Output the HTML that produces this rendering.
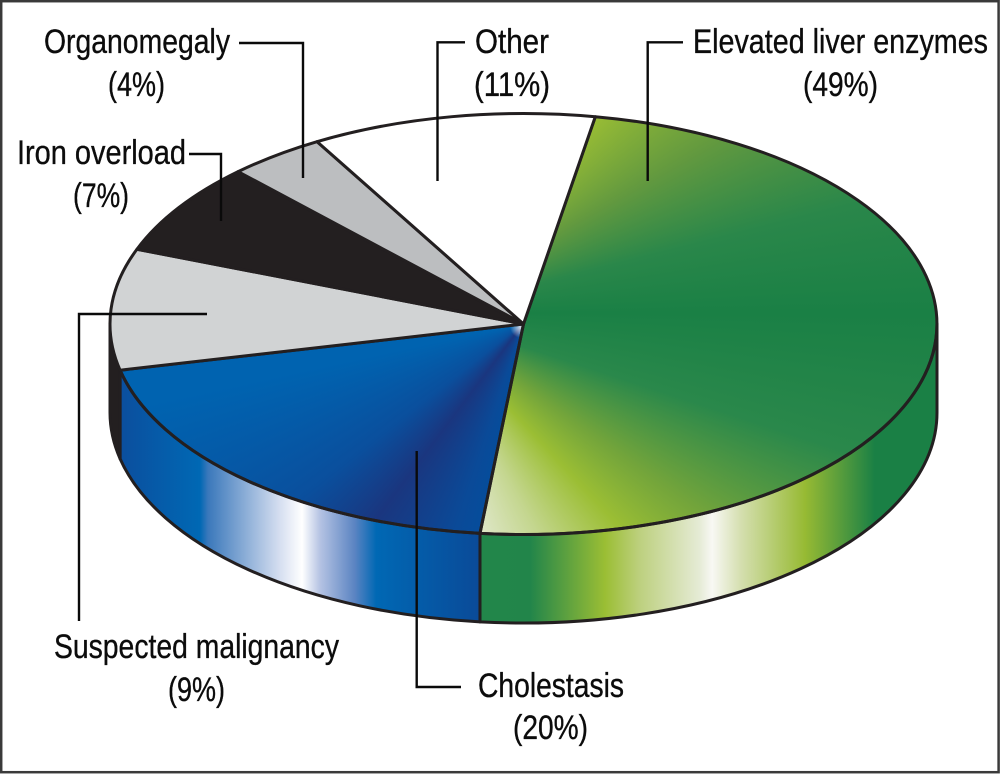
<!DOCTYPE html>
<html lang="en">
<head>
<meta charset="utf-8">
<title>Pie chart of indications</title>
<style>
html,body{margin:0;padding:0;background:#fff;}
#chart{position:relative;width:1000px;height:774px;overflow:hidden;background:#fff;}
.top-fill{position:absolute;left:0;top:0;width:1000px;height:774px;}
#top-green{background:conic-gradient(from 0deg at 420px 313px,#9bbe34 0deg,#9bbe34 41deg,#62993f 60deg,#2a874a 76deg,#1a8045 90deg,#2a884b 108deg,#72a43b 125deg,#9bbe34 137deg,#c4d68f 152deg,#e2e9cf 166deg,#e2e9cf 360deg);}
#top-blue{background:radial-gradient(circle 11px at 521px 327px,rgba(255,255,255,.85),rgba(255,255,255,0)),conic-gradient(from 0deg at 523px 324px,#004f9f 0deg,#004f9f 185deg,#0a4a98 198deg,#1a367f 217deg,#0a4f9d 232deg,#0063b0 258deg,#0063b0 360deg);}
svg{position:absolute;left:0;top:0;}
text{font-family:"Liberation Sans",Arial,sans-serif;font-size:34px;fill:#0c0c0c;stroke:#0c0c0c;stroke-width:0.35px;}
.leader{fill:none;stroke:#0a0a0a;stroke-width:2.4;}
</style>
</head>
<body>
<div id="chart">
  <div id="top-green" class="top-fill"></div>
  <div id="top-blue" class="top-fill"></div>
  <svg id="svg" width="1000" height="774" viewBox="0 0 1000 774">
    <defs>
      <linearGradient id="side-green" gradientUnits="userSpaceOnUse" x1="480" y1="0" x2="937" y2="0">
        <stop offset="0" stop-color="#22864a"/>
        <stop offset="0.11" stop-color="#22854a"/>
        <stop offset="0.274" stop-color="#9bbe34"/>
        <stop offset="0.35" stop-color="#bdd07f"/>
        <stop offset="0.48" stop-color="#e5ebd5"/>
        <stop offset="0.508" stop-color="#f8f8f4"/>
        <stop offset="0.57" stop-color="#d5dfb0"/>
        <stop offset="0.711" stop-color="#97ba33"/>
        <stop offset="0.864" stop-color="#1a8045"/>
        <stop offset="1" stop-color="#1a8045"/>
      </linearGradient>
      <linearGradient id="side-blue" gradientUnits="userSpaceOnUse" x1="122" y1="0" x2="480" y2="0">
        <stop offset="0" stop-color="#0b4f9e"/>
        <stop offset="0.218" stop-color="#0068b4"/>
        <stop offset="0.24" stop-color="#3a78bb"/>
        <stop offset="0.44" stop-color="#d5def0"/>
        <stop offset="0.503" stop-color="#ffffff"/>
        <stop offset="0.553" stop-color="#b5c3e3"/>
        <stop offset="0.65" stop-color="#5b84c2"/>
        <stop offset="0.71" stop-color="#0068b4"/>
        <stop offset="1" stop-color="#0a4a98"/>
      </linearGradient>
    </defs>
    <rect x="1.2" y="1.2" width="997.4" height="771" fill="none" stroke="#3a3a3a" stroke-width="2.5"/>
    <g id="slices"></g>

    <path class="leader" d="M239 43H303V178"/>
    <path class="leader" d="M465 42.3H437.5V181"/>
    <path class="leader" d="M683 42.3H647.7V181"/>
    <path class="leader" d="M189 154H221V221"/>
    <path class="leader" d="M207 314H79V621"/>
    <path class="leader" d="M416.7 451V687H461"/>

    <text x="693" y="53" textLength="295" lengthAdjust="spacingAndGlyphs">Elevated liver enzymes</text>
    <text x="803" y="96" textLength="75" lengthAdjust="spacingAndGlyphs" data-pct="0">(49%)</text>
    <text x="478" y="697" textLength="146" lengthAdjust="spacingAndGlyphs">Cholestasis</text>
    <text x="513" y="739" textLength="75" lengthAdjust="spacingAndGlyphs" data-pct="1">(20%)</text>
    <text x="54" y="658" textLength="285" lengthAdjust="spacingAndGlyphs">Suspected malignancy</text>
    <text x="168" y="701" textLength="57" lengthAdjust="spacingAndGlyphs" data-pct="2">(9%)</text>
    <text x="17" y="164" textLength="169" lengthAdjust="spacingAndGlyphs">Iron overload</text>
    <text x="73" y="207" textLength="56" lengthAdjust="spacingAndGlyphs" data-pct="3">(7%)</text>
    <text x="44" y="53" textLength="186" lengthAdjust="spacingAndGlyphs">Organomegaly</text>
    <text x="108" y="96" textLength="57" lengthAdjust="spacingAndGlyphs" data-pct="4">(4%)</text>
    <text x="475" y="53" textLength="74" lengthAdjust="spacingAndGlyphs">Other</text>
    <text x="474" y="96" textLength="76" lengthAdjust="spacingAndGlyphs" data-pct="5">(11%)</text>
  </svg>
</div>
<script>
const categories = ["elevated-liver-enzymes", "cholestasis", "suspected-malignancy", "iron-overload", "organomegaly", "other"];
const values = [48.9, 19.8, 9.3, 7.1, 3.8, 11.1];
const topFills = ["none", "none", "#d1d3d4", "#231f20", "#bcbec0", "#ffffff"];
const sideFills = ["url(#side-green)", "url(#side-blue)", "#231f20", "#231f20", "#bcbec0", "#ffffff"];

const CX = 523.5, CY = 324, RX = 413.5, RY = 210.5, DEPTH = 88.5, START = 10;
const NS = "http://www.w3.org/2000/svg";
const total = values.reduce(function (a, b) { return a + b; }, 0);

function angleFor(sum) { return START + sum / total * 360; }
function px(a, dy) {
  const r = a * Math.PI / 180;
  return [CX + RX * Math.sin(r), CY - RY * Math.cos(r) + (dy || 0)];
}
function fmt(p) { return p[0].toFixed(2) + " " + p[1].toFixed(2); }
function wedgePath(a0, a1) {
  const large = a1 - a0 > 180 ? 1 : 0;
  return "M" + CX + " " + CY + " L" + fmt(px(a0)) + " A" + RX + " " + RY + " 0 " + large + " 1 " + fmt(px(a1)) + " Z";
}
function sidePath(a0, a1) {
  const large = a1 - a0 > 180 ? 1 : 0;
  return "M" + fmt(px(a0)) + " A" + RX + " " + RY + " 0 " + large + " 1 " + fmt(px(a1)) +
    " L" + fmt(px(a1, DEPTH)) + " A" + RX + " " + RY + " 0 " + large + " 0 " + fmt(px(a0, DEPTH)) + " Z";
}

const group = document.getElementById("slices");
let running = 0;
const ranges = values.map(function (v) {
  const r = [angleFor(running), angleFor(running + v)];
  running += v;
  return r;
});

ranges.forEach(function (r, i) {
  const v0 = Math.max(r[0], 90), v1 = Math.min(r[1], 270);
  if (v1 > v0) {
    const side = document.createElementNS(NS, "path");
    
    
    side.setAttribute("d", sidePath(v0, v1));
    side.setAttribute("fill", sideFills[i]);
    side.setAttribute("stroke", "#231f20");
    side.setAttribute("stroke-width", "3");
    side.setAttribute("stroke-linejoin", "round");
    group.appendChild(side);
  }
});

ranges.forEach(function (r, i) {
  const d = wedgePath(r[0], r[1]);
  const wedge = document.createElementNS(NS, "path");
  
  
  wedge.setAttribute("d", d);
  wedge.setAttribute("fill", topFills[i]);
  wedge.setAttribute("stroke", "#231f20");
  wedge.setAttribute("stroke-width", "3");
  wedge.setAttribute("stroke-linejoin", "round");
  group.appendChild(wedge);
});

document.getElementById("top-green").style.clipPath = "path('" + wedgePath(ranges[0][0], ranges[0][1]) + "')";
document.getElementById("top-blue").style.clipPath = "path('" + wedgePath(ranges[1][0], ranges[1][1]) + "')";

document.querySelectorAll("[data-pct]").forEach(function (t) {
  t.textContent = "(" + Math.round(values[+t.getAttribute("data-pct")]) + "%)";
});
</script>
</body>
</html>
